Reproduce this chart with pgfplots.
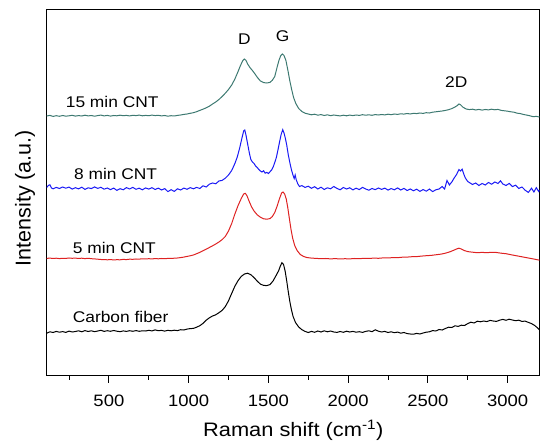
\documentclass[border=0pt]{standalone}
\usepackage{pgfplots}
\pgfplotsset{compat=1.18}
\usepackage{fontspec}
\setmainfont{Liberation Sans}
\newfontfamily\wide[FakeStretch=1.12]{Liberation Sans}
\definecolor{cteal}{RGB}{61,121,113}
\definecolor{cred}{RGB}{222,34,34}
\definecolor{cblue}{RGB}{25,25,245}
\begin{document}
\begin{tikzpicture}
\begin{axis}[
  scale only axis, width=492.8pt, height=366.7pt,
  xmin=110, xmax=3200, ymin=0, ymax=366.7,
  xtick={500,1000,1500,2000,2500,3000},
  minor xtick={250,750,1250,1750,2250,2750},
  ytick=\empty,
  xtick pos=bottom, tick align=outside,
  major tick length=7pt, minor tick length=4pt,
  tick style={black, line width=0.8pt},
  axis line style={line width=1pt},
  /pgf/number format/assume math mode=true,
  /pgf/number format/set thousands separator={},
  xticklabel style={font=\wide\fontsize{16.5}{19}\selectfont, anchor=base, yshift=-23.5pt},
  xlabel={Raman shift (cm\textsuperscript{-1})},
  xlabel style={font=\wide\fontsize{19.5}{22}\selectfont, at={(axis description cs:0.5004,-0.1655)}, anchor=base},
  ylabel={Intensity (a.u.)},
  ylabel style={font=\fontsize{21.5}{24}\selectfont, at={(axis description cs:-0.044,0.485)}, anchor=center},
  clip=true,
]
% Carbon fiber
\addplot[black, line width=1pt] table {
x y
110 42.8
130 44.2
150 43.5
170 44.6
190 43.8
210 44.4
230 43.6
250 44.9
270 44.0
290 44.5
310 45.2
330 44.2
350 45.4
370 44.5
390 45.2
410 44.3
430 45.0
450 45.7
470 44.6
490 45.3
510 44.7
530 45.5
550 44.8
570 44.3
590 45.1
610 44.6
630 45.3
650 44.7
670 45.4
690 44.7
710 45.2
730 45.0
750 45.7
770 45.1
790 46.1
810 45.3
830 45.6
850 44.9
870 45.7
890 45.2
910 45.8
930 45.4
950 46.3
970 46.0
990 46.9
1010 47.4
1030 47.6
1050 48.8
1070 50.3
1090 52.6
1110 55.8
1130 58.2
1150 60.0
1170 61.2
1190 63.3
1210 65.6
1230 69.4
1250 75.2
1270 82.6
1290 89.8
1310 95.4
1330 99.6
1350 102.0
1370 102.8
1390 101.3
1410 98.4
1430 94.9
1450 91.9
1470 90.6
1490 90.4
1510 91.4
1530 95.2
1550 101.0
1565 105.5
1575 110.0
1585 113.3
1595 111.5
1605 105.0
1615 95.0
1625 84.0
1635 74.0
1645 66.0
1655 59.5
1670 53.5
1690 49.0
1710 46.3
1730 44.6
1750 43.5
1770 44.6
1790 43.7
1810 45.0
1830 44.0
1850 45.2
1870 44.2
1890 45.0
1910 44.0
1930 43.6
1950 44.5
1970 43.7
1990 44.8
2010 44.0
2030 44.6
2050 43.8
2070 44.3
2090 43.6
2110 44.6
2130 45.2
2150 44.3
2170 46.2
2190 44.8
2210 44.0
2230 44.6
2250 43.5
2270 44.2
2290 43.3
2310 43.9
2330 42.8
2350 43.5
2370 42.4
2390 42.0
2410 41.8
2430 42.6
2450 42.0
2470 43.0
2490 43.8
2510 44.2
2530 45.4
2550 45.0
2570 46.5
2590 46.0
2610 47.5
2630 48.8
2650 48.5
2670 50.2
2690 49.6
2710 50.8
2730 50.5
2750 52.4
2770 53.8
2790 53.0
2810 54.8
2830 54.2
2850 55.0
2870 54.4
2890 55.6
2910 55.0
2930 54.6
2950 55.8
2970 56.6
2990 55.7
3010 56.8
3030 56.0
3050 55.3
3070 55.8
3090 54.6
3110 54.9
3130 53.6
3150 52.4
3170 50.5
3190 47.8
3200 46.0
};
% 5 min CNT
\addplot[cred, line width=1pt] table {
x y
110 117.6
130 117.9
150 117.5
170 117.8
190 117.4
210 117.7
230 117.6
250 118.0
270 117.7
290 117.9
310 117.5
330 117.8
350 117.4
370 117.7
390 117.3
410 117.1
430 116.8
450 116.5
470 116.4
490 116.2
510 116.4
530 116.1
550 116.3
570 116.2
590 116.6
610 116.4
630 116.8
650 116.7
670 117.0
690 116.9
710 117.2
730 117.0
750 117.3
770 117.1
790 117.4
810 117.2
830 117.5
850 117.3
870 117.6
890 117.5
910 117.8
930 118.0
950 118.4
970 118.9
990 119.6
1010 120.2
1030 121.0
1050 122.3
1070 123.6
1090 125.2
1110 126.8
1130 128.5
1150 130.2
1170 132.0
1190 134.0
1210 136.4
1230 139.6
1250 145.0
1270 152.5
1290 162.0
1310 170.5
1330 177.5
1345 182.0
1355 182.7
1365 180.5
1380 174.5
1395 169.0
1410 165.0
1430 161.2
1450 158.8
1470 157.2
1490 156.8
1510 157.4
1525 159.5
1540 163.5
1555 170.0
1570 177.5
1583 183.0
1592 184.0
1602 182.0
1612 177.0
1622 168.0
1632 157.0
1642 146.5
1652 138.0
1665 130.5
1680 125.5
1700 121.5
1720 119.6
1740 118.5
1770 117.9
1800 117.6
1830 117.3
1860 117.5
1890 117.1
1920 117.4
1950 117.0
1980 117.3
2010 117.1
2040 117.5
2070 117.3
2100 117.7
2130 117.5
2160 117.9
2190 117.7
2220 118.1
2250 118.0
2280 118.4
2310 118.3
2340 118.8
2370 118.9
2400 119.3
2430 119.4
2460 119.9
2490 120.3
2520 120.6
2550 121.2
2580 121.8
2610 122.8
2640 124.3
2660 125.6
2680 127.0
2695 127.8
2710 127.0
2730 125.4
2750 124.4
2780 123.8
2810 123.3
2840 123.6
2870 123.3
2900 123.7
2930 123.5
2960 122.8
2990 122.3
3020 121.3
3050 120.4
3080 119.5
3110 118.6
3140 117.7
3170 116.8
3200 115.8
};
% 8 min CNT
\addplot[cblue, line width=1pt] table {
x y
110 188.5
120 190.5
130 191.2
140 188.0
150 187.2
170 188.6
190 187.5
210 189.0
230 187.8
250 188.9
270 186.9
290 188.3
310 187.1
330 188.8
350 186.6
370 188.2
390 187.4
410 189.1
430 187.6
450 188.7
470 186.8
490 188.0
510 186.4
530 187.9
550 185.6
570 187.3
590 186.2
610 188.4
630 187.0
650 188.6
670 186.7
690 187.8
710 186.2
730 188.1
750 186.9
770 188.3
790 186.5
810 187.9
830 186.0
850 187.4
870 184.4
890 186.3
910 184.6
930 187.2
950 186.0
970 187.9
990 186.7
1010 188.4
1030 187.2
1050 188.6
1070 187.5
1090 190.2
1110 189.0
1130 191.8
1150 193.0
1170 192.2
1190 195.0
1210 195.6
1230 197.8
1250 201.0
1270 205.5
1290 212.5
1305 219.0
1320 228.0
1335 238.5
1345 245.0
1352 246.0
1360 240.5
1370 232.0
1380 223.5
1390 216.5
1400 214.0
1410 212.5
1420 210.0
1430 208.5
1440 206.5
1450 205.0
1460 204.0
1470 205.2
1480 202.8
1490 203.6
1500 202.5
1510 204.2
1520 206.0
1530 209.0
1540 213.5
1550 218.5
1560 226.0
1570 234.0
1580 241.5
1590 246.3
1598 243.0
1606 238.0
1615 231.0
1625 221.0
1635 213.0
1645 206.0
1655 200.5
1662 197.5
1668 201.0
1675 196.0
1685 192.0
1695 189.5
1710 190.4
1730 188.6
1750 189.8
1770 187.7
1790 189.3
1810 187.0
1830 188.8
1850 186.5
1870 188.2
1890 187.2
1910 189.5
1930 187.6
1950 186.2
1970 188.5
1990 187.0
2010 188.2
2030 186.1
2050 187.8
2070 186.4
2090 188.6
2110 187.0
2130 185.8
2150 187.5
2170 186.3
2190 188.0
2210 186.6
2230 187.9
2250 185.9
2270 187.4
2290 186.2
2310 188.1
2330 186.0
2350 187.6
2370 185.5
2390 187.0
2410 185.2
2430 186.8
2450 184.6
2470 186.4
2490 184.8
2510 186.9
2530 184.4
2550 186.2
2570 187.0
2590 189.5
2605 187.0
2620 195.5
2635 191.0
2650 194.0
2665 198.0
2680 201.5
2695 206.5
2705 205.0
2715 206.8
2725 202.0
2735 198.0
2750 194.5
2765 193.0
2780 191.5
2800 193.0
2820 190.5
2840 192.5
2860 191.0
2880 193.5
2900 191.8
2920 194.0
2940 192.5
2955 195.2
2970 192.0
2990 190.5
3010 192.6
3030 189.4
3050 190.8
3070 187.5
3090 189.0
3110 185.8
3130 183.6
3150 187.8
3165 184.0
3180 188.3
3195 184.5
3200 186.0
};
% 15 min CNT
\addplot[cteal, line width=1pt] table {
x y
110 260.0
130 260.6
150 259.6
170 260.3
190 259.7
210 260.5
230 259.8
250 260.2
270 260.7
290 259.9
310 260.4
330 260.0
350 260.8
370 260.1
390 260.5
410 259.8
430 260.4
450 260.9
470 260.1
490 260.6
510 259.9
530 260.5
550 260.2
570 260.8
590 260.3
610 260.6
630 260.1
650 260.7
670 260.4
690 260.9
710 260.2
730 260.6
750 260.3
770 260.9
790 260.4
810 260.7
830 260.1
850 260.5
870 259.8
890 260.3
910 260.0
930 260.6
950 261.0
970 261.6
990 262.0
1010 262.7
1030 263.3
1050 264.3
1070 265.6
1090 266.8
1110 268.2
1130 269.8
1150 272.0
1170 274.0
1190 276.5
1210 279.5
1230 282.8
1250 286.5
1270 291.0
1290 297.0
1310 304.5
1325 310.5
1340 315.5
1350 317.0
1360 315.5
1370 312.0
1385 308.3
1400 305.5
1415 302.3
1430 298.8
1450 295.0
1470 293.4
1490 293.0
1510 293.6
1525 295.8
1540 299.5
1555 309.0
1567 316.0
1578 320.5
1588 322.0
1598 320.5
1610 315.5
1622 306.0
1634 295.5
1646 286.5
1658 278.5
1672 272.5
1690 267.5
1710 264.5
1730 262.8
1750 262.0
1770 261.2
1790 261.8
1810 260.8
1830 261.4
1850 260.5
1870 261.2
1890 260.3
1910 261.0
1930 260.5
1950 260.1
1970 260.8
1990 260.2
2010 260.9
2030 260.4
2050 261.0
2070 260.6
2090 261.3
2110 260.8
2130 261.2
2150 260.7
2170 261.4
2190 261.0
2210 261.5
2230 261.1
2250 261.8
2270 261.3
2290 262.0
2310 261.6
2330 262.2
2350 261.9
2370 262.5
2390 262.0
2410 262.7
2430 262.4
2450 263.0
2470 262.6
2490 263.3
2510 263.0
2530 263.8
2550 264.2
2570 264.6
2590 265.0
2610 265.6
2630 266.3
2650 267.4
2670 269.0
2685 270.5
2695 272.0
2705 271.2
2720 268.8
2740 267.0
2760 266.4
2780 266.8
2800 266.0
2820 266.6
2840 265.9
2860 266.5
2880 266.1
2900 266.8
2920 266.2
2940 266.6
2960 265.6
2980 265.2
3000 264.8
3020 264.2
3040 263.8
3060 262.8
3080 262.4
3100 261.5
3120 260.9
3140 260.2
3160 259.3
3180 259.6
3200 259.0
};
\node[anchor=base west, font=\wide\fontsize{15.5}{18}\selectfont] at (axis cs:208,268.7) {15 min CNT};
\node[anchor=base west, font=\wide\fontsize{15.5}{18}\selectfont] at (axis cs:260,196.7) {8 min CNT};
\node[anchor=base west, font=\wide\fontsize{15.5}{18}\selectfont] at (axis cs:252,122) {5 min CNT};
\node[anchor=base west, font=\wide\fontsize{15.5}{18}\selectfont] at (axis cs:252,53.3) {Carbon fiber};
\node[anchor=base, font=\wide\fontsize{15.5}{18}\selectfont] at (axis cs:1349,331) {D};
\node[anchor=base, font=\wide\fontsize{15.5}{18}\selectfont] at (axis cs:1589,334.5) {G};
\node[anchor=base, font=\wide\fontsize{15.5}{18}\selectfont] at (axis cs:2678,288.7) {2D};
\end{axis}
\pgfresetboundingbox
\useasboundingbox ([xshift=-46.7pt,yshift=-65pt]current axis.south west) rectangle ([xshift=1.5pt,yshift=9.3pt]current axis.north east);
\end{tikzpicture}
\end{document}
